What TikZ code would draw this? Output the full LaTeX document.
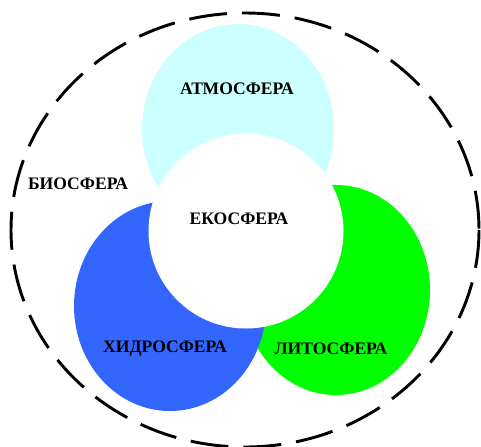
\documentclass[tikz,border=0pt]{standalone}
\usepackage{fontspec}
\usetikzlibrary{shapes.geometric}
\setmainfont{Liberation Serif}
\definecolor{atmocyan}{HTML}{CCFFFF}
\definecolor{hydroblue}{HTML}{3366FF}
\definecolor{lithogreen}{HTML}{00FF00}
\begin{document}
\begin{tikzpicture}[x=0.03cm,y=-0.03cm,
      sphere/.style={ellipse,inner sep=0pt,minimum width=5.7cm,minimum height=6.3cm},
      lbl/.style={font=\fontsize{15}{18}\selectfont\bfseries}]
      \useasboundingbox (0,0) rectangle (481,446);
      % biosphere border
      \draw[line width=2.5pt,dash pattern=on 1.14cm off 0.45cm]
       (245,230) ellipse[x radius=234,y radius=217];
      % spheres, back to front
      \node (atmo) [sphere,fill=atmocyan,minimum width=5.76cm] at (238,129) {};
      \node (litho) [sphere,fill=lithogreen,minimum width=5.64cm] at (336,290) {};
      \node (hydro) [sphere,fill=hydroblue,minimum width=5.76cm] at (170,306) {};
      \node (eco) [circle,inner sep=0pt,fill=white,minimum size=5.85cm] at (246,231) {};
      % labels
      \path (237,89) node[lbl] (atmolbl) {АТМОСФЕРА};
      \path (239,219) node[lbl] (ecolbl) {ЕКОСФЕРА};
      \path (78,184) node[lbl] (biolbl) {БИОСФЕРА};
      \path (165,349) node[lbl] (hydrolbl) {ХИДРОСФЕРА};
      \path (331,349) node[lbl] (litholbl) {ЛИТОСФЕРА};
     \end{tikzpicture}
\end{document}
